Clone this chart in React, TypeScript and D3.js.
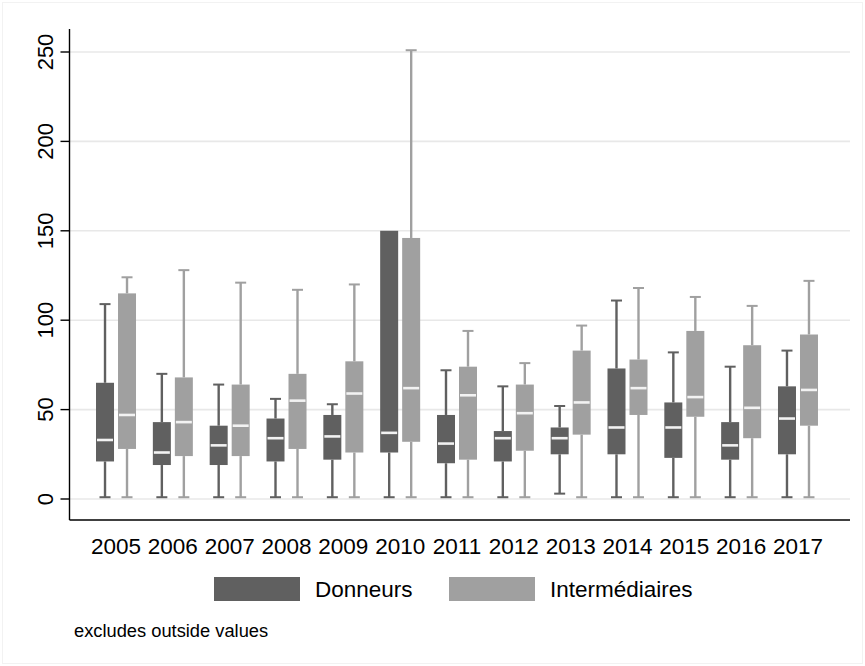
import React from "react";
import * as d3 from "d3";

const years = ["2005","2006","2007","2008","2009","2010","2011","2012","2013","2014","2015","2016","2017"];

// Donneurs: lower whisker, q1, median, q3, upper whisker
const donLo = [1,1,1,1,1,1,1,1,3,1,1,1,1];
const donQ1 = [21,19,19,21,22,26,20,21,25,25,23,22,25];
const donMed = [33,26,30,34,35,37,31,34,34,40,40,30,45];
const donQ3 = [65,43,41,45,47,150,47,38,40,73,54,43,63];
const donHi = [109,70,64,56,53,150,72,63,52,111,82,74,83];

// Intermédiaires
const intLo = [1,1,1,1,1,1,1,1,1,1,1,1,1];
const intQ1 = [28,24,24,28,26,32,22,27,36,47,46,34,41];
const intMed = [47,43,41,55,59,62,58,48,54,62,57,51,61];
const intQ3 = [115,68,64,70,77,146,74,64,83,78,94,86,92];
const intHi = [124,128,121,117,120,251,94,76,97,118,113,108,122];

const yTicks = [0,50,100,150,200,250];
const seriesNames = ["Donneurs","Intermédiaires"];
const seriesColors = ["#606060","#a0a0a0"];
const note = "excludes outside values";

const W = 865, H = 666;
const FONT = "'Liberation Sans', Arial, Helvetica, sans-serif";

export default function App() {
  const x = d3.scaleBand<string>().domain(years).range([87.6, 826.4]).padding(0);
  const y = d3.scaleLinear().domain([0, 250]).range([499, 52]);
  const axisLeft = 69.5, axisBottom = 520, plotTop = 29, plotRight = 850;
  const boxW = 18, capW = 11, off = 11;

  const series = [
    { lo: donLo, q1: donQ1, med: donMed, q3: donQ3, hi: donHi, color: seriesColors[0], dx: -off },
    { lo: intLo, q1: intQ1, med: intMed, q3: intQ3, hi: intHi, color: seriesColors[1], dx: off },
  ];

  return (
    <svg width={W} height={H} style={{ position: "absolute", left: 0, top: 0, background: "#fff" }} fontFamily={FONT}>
      <rect x={0} y={0} width={W} height={H} fill="#ffffff" />
      <rect x={2.5} y={2.5} width={W - 5} height={H - 5} fill="none" stroke="#f2f2f2" strokeWidth={1} />
      {/* gridlines */}
      {yTicks.map((t) => (
        <line key={"g" + t} x1={axisLeft} x2={plotRight} y1={y(t)} y2={y(t)} stroke="#e8e8e8" strokeWidth={1.6} />
      ))}
      {/* boxes */}
      {series.map((s, si) =>
        years.map((yr, i) => {
          const cx = (x(yr) as number) + x.bandwidth() / 2 + s.dx;
          const showHi = s.hi[i] > s.q3[i];
          return (
            <g key={si + "-" + yr}>
              {showHi && <line x1={cx} x2={cx} y1={y(s.q3[i])} y2={y(s.hi[i])} stroke={s.color} strokeWidth={2.4} />}
              <line x1={cx} x2={cx} y1={y(s.q1[i])} y2={y(s.lo[i])} stroke={s.color} strokeWidth={2.4} />
              {showHi && <line x1={cx - capW / 2} x2={cx + capW / 2} y1={y(s.hi[i])} y2={y(s.hi[i])} stroke={s.color} strokeWidth={2} />}
              <line x1={cx - capW / 2} x2={cx + capW / 2} y1={y(s.lo[i])} y2={y(s.lo[i])} stroke={s.color} strokeWidth={2} />
              <rect x={cx - boxW / 2} y={y(s.q3[i])} width={boxW} height={y(s.q1[i]) - y(s.q3[i])} fill={s.color} />
              <line x1={cx - boxW / 2 + 1} x2={cx + boxW / 2 - 1} y1={y(s.med[i])} y2={y(s.med[i])} stroke="#f2f2f2" strokeWidth={2.6} />
            </g>
          );
        })
      )}
      {/* axes */}
      <line x1={axisLeft} x2={axisLeft} y1={plotTop} y2={axisBottom} stroke="#000" strokeWidth={1.4} />
      <line x1={axisLeft} x2={plotRight} y1={axisBottom} y2={axisBottom} stroke="#000" strokeWidth={1.4} />
      {yTicks.map((t) => (
        <g key={"t" + t}>
          <line x1={60.5} x2={axisLeft} y1={y(t)} y2={y(t)} stroke="#000" strokeWidth={1.4} />
          <text transform={`translate(53,${y(t)}) rotate(-90)`} textAnchor="middle" fontSize={22} fill="#000">{t}</text>
        </g>
      ))}
      {years.map((yr) => (
        <text key={"x" + yr} x={(x(yr) as number) + x.bandwidth() / 2} y={554} textAnchor="middle" fontSize={22.5} fill="#000">{yr}</text>
      ))}
      {/* legend */}
      <rect x={214} y={577} width={86} height={24} fill={seriesColors[0]} />
      <text x={315} y={597} fontSize={22.5} fill="#000">{seriesNames[0]}</text>
      <rect x={449} y={577} width={86} height={24} fill={seriesColors[1]} />
      <text x={550} y={597} fontSize={22.5} fill="#000">{seriesNames[1]}</text>
      <text x={74} y={637} fontSize={18.3} fill="#000">{note}</text>
    </svg>
  );
}
